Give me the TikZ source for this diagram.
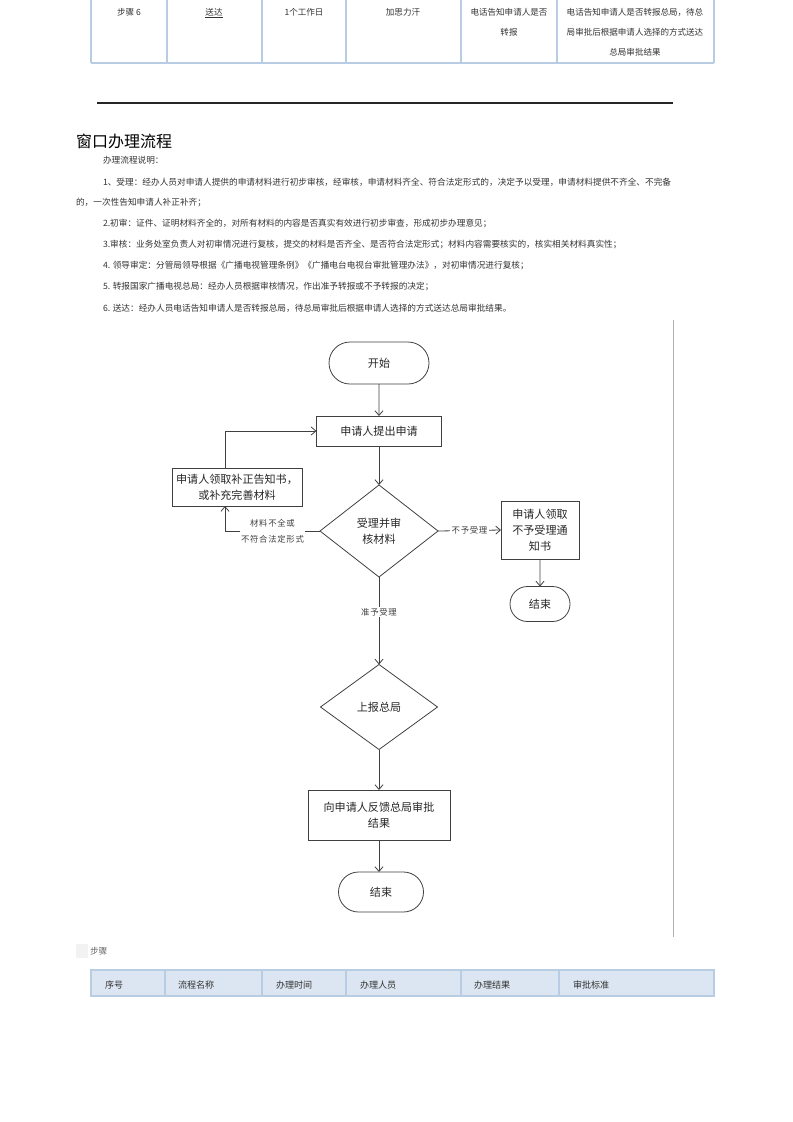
\documentclass[tikz,border=0pt]{standalone}
\usepackage{fontspec}
\setmainfont{Noto Sans CJK SC}
\newfontfamily\labelfont[LetterSpace=8]{Noto Sans CJK SC}
\usetikzlibrary{positioning, arrows.meta, shapes.geometric, shapes.misc}
\definecolor{gridblue}{HTML}{B8CCE4}
\definecolor{headblue}{HTML}{DCE6F2}
\definecolor{textgray}{HTML}{333333}

\begin{document}
\begin{tikzpicture}[
    x=0.75pt, y=-0.75pt,
    every node/.style={inner sep=0pt, outer sep=0pt},
    box/.style={
        draw=black!75,
        line width=0.6pt,
        rectangle,
        align=center,
        font=\fontsize{8.3}{12}\selectfont,
        text=black!85
    },
    terminal/.style={box, rounded rectangle},
    decision/.style={box, diamond},
    arrow/.style={-{Straight Barb[length=3.5pt,width=6pt]}, line width=0.6pt, draw=black!75},
    prop/.style={font=\labelfont\fontsize{6.3}{12}\selectfont, fill=white, text=black!75, inner sep=1pt, align=center},
    body/.style={anchor=west, font=\fontsize{6.5}{8}\selectfont, text=textgray},
    cell/.style={font=\fontsize{6.4}{15}\selectfont, text=textgray, align=center},
    head/.style={anchor=west, font=\fontsize{6.8}{8}\selectfont, text=textgray}
]
\useasboundingbox (0,0) rectangle (793,1122);

% table of the page before
\foreach \x in {91,167,262,346,461,557,714}
    \draw[gridblue, line width=0.8pt] (\x,0) -- (\x,63);
\draw[gridblue, line width=0.8pt] (91,63) -- (714,63);
\node[cell] (step) at (129,12) {步骤 6};
\node[cell, anchor=base] (stepname) at (214,15) {\underline{送达}};
\node[cell] (steptime) at (304,12) {1个工作日};
\node[cell] (stepstaff) at (403,12) {加思力汗};
\node[cell] (stepresult) at (509,22) {电话告知申请人是否\\转报};
\node[cell] (steprule) at (635,32) {电话告知申请人是否转报总局，待总\\局审批后根据申请人选择的方式送达\\总局审批结果};

\draw[line width=1pt, black!85] (97,103) -- (673,103);

% heading and notes
\node[anchor=west, font=\fontsize{12}{14}\selectfont] (title) at (76,141) {窗口办理流程};
\node[body] (intro) at (103,160) {办理流程说明：};
\node[body] (note1) at (103,182) {1、受理：经办人员对申请人提供的申请材料进行初步审核，经审核，申请材料齐全、符合法定形式的，决定予以受理，申请材料提供不齐全、不完备};
\node[body] (note1b) at (76,203) {的，一次性告知申请人补正补齐；};
\node[body] (note2) at (103,224) {2.初审：证件、证明材料齐全的，对所有材料的内容是否真实有效进行初步审查，形成初步办理意见；};
\node[body] (note3) at (103,245) {3.审核：业务处室负责人对初审情况进行复核，提交的材料是否齐全、是否符合法定形式；材料内容需要核实的，核实相关材料真实性；};
\node[body] (note4) at (103,266) {4. 领导审定：分管局领导根据《广播电视管理条例》《广播电台电视台审批管理办法》，对初审情况进行复核；};
\node[body] (note5) at (103,287) {5. 转报国家广播电视总局：经办人员根据审核情况，作出准予转报或不予转报的决定；};
\node[body] (note6) at (103,308) {6. 送达：经办人员电话告知申请人是否转报总局，待总局审批后根据申请人选择的方式送达总局审批结果。};

\draw[black!30, line width=0.75pt] (673,320) -- (673,937);

% flow chart
\node[terminal, minimum width=75pt, minimum height=31.5pt] (start) at (379,363) {开始};
\node[box, minimum width=93.75pt, minimum height=22.5pt] (apply) at (379,431) {申请人提出申请};
\node[decision, minimum width=88.5pt, minimum height=69pt] (check) at (379,531) {受理并审\\核材料};
\node[box, minimum width=97.5pt, minimum height=28.5pt] (fix) at (237,487) {申请人领取补正告知书，\\或补充完善材料};
\node[box, minimum width=58.5pt, minimum height=43.5pt] (noacc) at (540,530) {申请人领取\\不予受理通\\知书};
\node[terminal, minimum width=45pt, minimum height=26.25pt] (endA) at (540,604) {结束};
\node[decision, minimum width=87.75pt, minimum height=63.75pt] (report) at (379,707) {上报总局};
\node[box, minimum width=106.5pt, minimum height=37.5pt] (feedback) at (379,815) {向申请人反馈总局审批\\结果};
\node[terminal, minimum width=63.75pt, minimum height=30pt] (endB) at (381,892) {结束};

\draw[arrow] (start) -- (apply);
\draw[arrow] (apply) -- (check);
\draw[arrow] ([xshift=-9pt]fix.north) |- (apply.west);
\draw[arrow] (check.west) -| node[prop, pos=0.25]{材料不全或\\不符合法定形式} ([xshift=-9pt]fix.south);
\draw[arrow] (check.east) -- node[prop]{不予受理} (noacc.west);
\draw[arrow] (noacc) -- (endA);
\draw[arrow] (check) -- node[prop, pos=0.4]{准予受理} (report);
\draw[arrow] (report) -- (feedback);
\draw[arrow] (feedback.south) -- (feedback.south |- endB.north);

% table of steps
\fill[black!5] (76,944) rectangle (88,958);
\node[body, text=black!60] (steplabel) at (90,951) {步骤};
\fill[headblue] (91,970) rectangle (714,996);
\draw[gridblue, line width=1pt] (91,970) rectangle (714,996);
\foreach \x in {165,262,346,461,559}
    \draw[gridblue, line width=1pt] (\x,970) -- (\x,996);
\node[head] (colno) at (105,985) {序号};
\node[head] (colname) at (178,985) {流程名称};
\node[head] (coltime) at (276,985) {办理时间};
\node[head] (colstaff) at (360,985) {办理人员};
\node[head] (colresult) at (474,985) {办理结果};
\node[head] (colrule) at (573,985) {审批标准};

\end{tikzpicture}
\end{document}
